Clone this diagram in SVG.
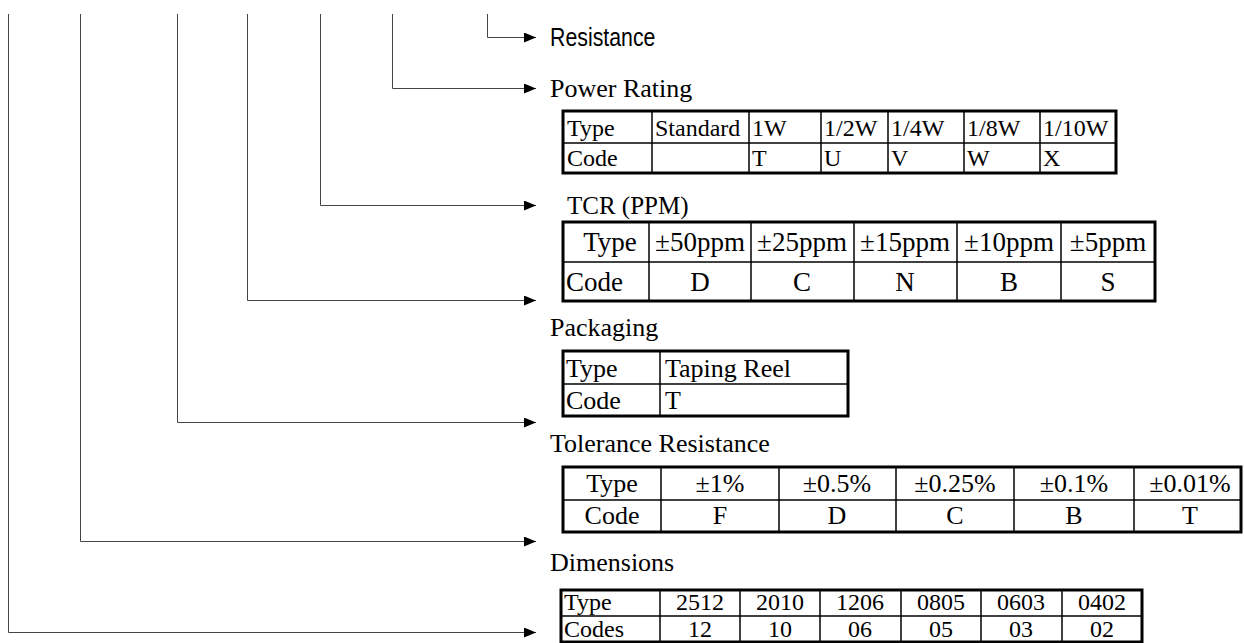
<svg xmlns="http://www.w3.org/2000/svg" width="1244" height="643" viewBox="0 0 1244 643">
<defs>
<marker id="ah" markerUnits="userSpaceOnUse" markerWidth="14" markerHeight="12" refX="12" refY="5" orient="auto">
<path d="M0,0 L12,5 L0,10 z" fill="#000"/>
</marker>
<style>
.c{fill:none;stroke:#444;stroke-width:1;marker-end:url(#ah)}
.lbl{font-family:"Liberation Serif",serif;font-size:26px;fill:#000}
.sans{font-family:"Liberation Sans",Arial,sans-serif;font-size:26px;fill:#000}
.p{font-family:"Liberation Serif",serif;font-size:24px;fill:#000}
.tcr{font-family:"Liberation Serif",serif;font-size:27px;fill:#000;text-anchor:middle}
.tc{font-family:"Liberation Serif",serif;font-size:26px;fill:#000;text-anchor:middle}
.dm{font-family:"Liberation Serif",serif;font-size:24px;fill:#000;text-anchor:middle}
.ob{fill:none;stroke:#000;stroke-width:3}
.ib{stroke:#000;stroke-width:1.5}
</style>
</defs>
<rect width="1244" height="643" fill="#fff"/>
<g id="connectors">
<path class="c" d="M487.5,14 V37.5 H536"/>
<path class="c" d="M392.5,14 V88.5 H536"/>
<path class="c" d="M320.5,14 V205.5 H536"/>
<path class="c" d="M247.5,14 V300.5 H536"/>
<path class="c" d="M177.5,14 V422.5 H536"/>
<path class="c" d="M80.5,14 V541.5 H536"/>
<path class="c" d="M8.5,14 V632.5 H536"/>
</g>
<g id="resistance">
<text class="sans" transform="translate(550,46) scale(0.82,1)">Resistance</text>
</g>
<g id="power-rating">
<text class="lbl" x="550" y="97">Power Rating</text>
<rect class="ob" x="563" y="111" width="553" height="62"/>
<line class="ib" x1="563" y1="143" x2="1116" y2="143"/>
<line class="ib" x1="652" y1="111" x2="652" y2="173"/>
<line class="ib" x1="749" y1="111" x2="749" y2="173"/>
<line class="ib" x1="821" y1="111" x2="821" y2="173"/>
<line class="ib" x1="888" y1="111" x2="888" y2="173"/>
<line class="ib" x1="964" y1="111" x2="964" y2="173"/>
<line class="ib" x1="1040" y1="111" x2="1040" y2="173"/>
<text class="p" x="567" y="136">Type</text>
<text class="p" x="655" y="136">Standard</text>
<text class="p" x="752" y="136">1W</text>
<text class="p" x="824" y="136">1/2W</text>
<text class="p" x="891" y="136">1/4W</text>
<text class="p" x="967" y="136">1/8W</text>
<text class="p" x="1043" y="136">1/10W</text>
<text class="p" x="567" y="166">Code</text>
<text class="p" x="752" y="166">T</text>
<text class="p" x="824" y="166">U</text>
<text class="p" x="891" y="166">V</text>
<text class="p" x="967" y="166">W</text>
<text class="p" x="1043" y="166">X</text>
</g>
<g id="tcr">
<text class="lbl" x="567" y="214" style="font-size:25px">TCR (PPM)</text>
<rect class="ob" x="563" y="222" width="592" height="79"/>
<line class="ib" x1="563" y1="262" x2="1155" y2="262"/>
<line class="ib" x1="649" y1="222" x2="649" y2="301"/>
<line class="ib" x1="751" y1="222" x2="751" y2="301"/>
<line class="ib" x1="854" y1="222" x2="854" y2="301"/>
<line class="ib" x1="957" y1="222" x2="957" y2="301"/>
<line class="ib" x1="1061" y1="222" x2="1061" y2="301"/>
<text class="tcr" x="610" y="251">Type</text>
<text class="tcr" x="700" y="251">±50ppm</text>
<text class="tcr" x="802" y="251">±25ppm</text>
<text class="tcr" x="905" y="251">±15ppm</text>
<text class="tcr" x="1009" y="251">±10ppm</text>
<text class="tcr" x="1108" y="251">±5ppm</text>
<text class="tcr" x="566" y="291" style="text-anchor:start">Code</text>
<text class="tcr" x="700" y="291">D</text>
<text class="tcr" x="802" y="291">C</text>
<text class="tcr" x="905" y="291">N</text>
<text class="tcr" x="1009" y="291">B</text>
<text class="tcr" x="1108" y="291">S</text>
</g>
<g id="packaging">
<text class="lbl" x="550" y="336">Packaging</text>
<rect class="ob" x="563" y="351" width="285" height="65"/>
<line class="ib" x1="563" y1="384" x2="848" y2="384"/>
<line class="ib" x1="660" y1="351" x2="660" y2="416"/>
<text class="lbl" x="566" y="377">Type</text>
<text class="lbl" x="665" y="377">Taping Reel</text>
<text class="lbl" x="566" y="409">Code</text>
<text class="lbl" x="665" y="409">T</text>
</g>
<g id="tolerance">
<text class="lbl" x="550" y="452">Tolerance Resistance</text>
<rect class="ob" x="563" y="467" width="678" height="65"/>
<line class="ib" x1="563" y1="500" x2="1241" y2="500"/>
<line class="ib" x1="661" y1="467" x2="661" y2="532"/>
<line class="ib" x1="779" y1="467" x2="779" y2="532"/>
<line class="ib" x1="896" y1="467" x2="896" y2="532"/>
<line class="ib" x1="1014" y1="467" x2="1014" y2="532"/>
<line class="ib" x1="1134" y1="467" x2="1134" y2="532"/>
<text class="tc" x="612" y="492">Type</text>
<text class="tc" x="720" y="492">±1%</text>
<text class="tc" x="837" y="492">±0.5%</text>
<text class="tc" x="955" y="492">±0.25%</text>
<text class="tc" x="1074" y="492">±0.1%</text>
<text class="tc" x="1190" y="492">±0.01%</text>
<text class="tc" x="612" y="524">Code</text>
<text class="tc" x="720" y="524">F</text>
<text class="tc" x="837" y="524">D</text>
<text class="tc" x="955" y="524">C</text>
<text class="tc" x="1074" y="524">B</text>
<text class="tc" x="1190" y="524">T</text>
</g>
<g id="dimensions">
<text class="lbl" x="550" y="571">Dimensions</text>
<rect class="ob" x="561" y="590" width="581" height="52"/>
<line class="ib" x1="561" y1="616" x2="1142" y2="616"/>
<line class="ib" x1="660" y1="590" x2="660" y2="642"/>
<line class="ib" x1="740" y1="590" x2="740" y2="642"/>
<line class="ib" x1="820" y1="590" x2="820" y2="642"/>
<line class="ib" x1="901" y1="590" x2="901" y2="642"/>
<line class="ib" x1="981" y1="590" x2="981" y2="642"/>
<line class="ib" x1="1062" y1="590" x2="1062" y2="642"/>
<text class="dm" x="564" y="610" style="text-anchor:start">Type</text>
<text class="dm" x="700" y="610">2512</text>
<text class="dm" x="780" y="610">2010</text>
<text class="dm" x="860" y="610">1206</text>
<text class="dm" x="941" y="610">0805</text>
<text class="dm" x="1021" y="610">0603</text>
<text class="dm" x="1102" y="610">0402</text>
<text class="dm" x="564" y="637" style="text-anchor:start">Codes</text>
<text class="dm" x="700" y="637">12</text>
<text class="dm" x="780" y="637">10</text>
<text class="dm" x="860" y="637">06</text>
<text class="dm" x="941" y="637">05</text>
<text class="dm" x="1021" y="637">03</text>
<text class="dm" x="1102" y="637">02</text>
</g>
</svg>
